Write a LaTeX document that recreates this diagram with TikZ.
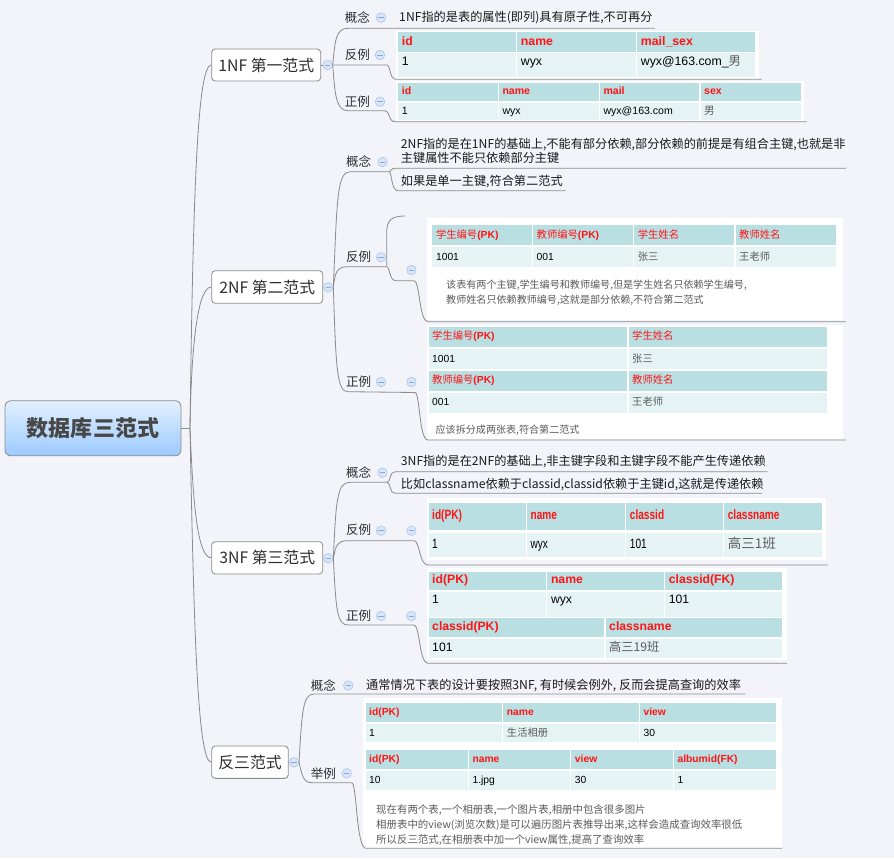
\documentclass[tikz,border=0pt]{standalone}
\usepackage{fontspec}
\setmainfont{Noto Sans CJK SC}
\newfontfamily\zhf{Noto Sans CJK SC}
\newfontfamily\arialf{Liberation Sans}
\newfontfamily\narrowf{Liberation Sans}[FakeStretch=0.75]
\definecolor{MapBg}{HTML}{F2F4F9}
\definecolor{MapLine}{HTML}{8C8C8C}
\definecolor{MapText}{HTML}{2E2E2E}
\definecolor{FoldEdge}{HTML}{A9C4EC}
\definecolor{FoldFill}{HTML}{DAE6F8}
\definecolor{FoldBar}{HTML}{86A8DC}
\definecolor{RootTop}{HTML}{E2F0FF}
\definecolor{RootBot}{HTML}{9CCAFF}
\definecolor{HeadFill}{HTML}{B9DFE3}
\definecolor{RowFill}{HTML}{E6F3F4}
\definecolor{HeadRed}{HTML}{FF1414}
\definecolor{NoteGray}{HTML}{5A5A5A}
\newdimen\pxu \pxu=0.03cm
\newcommand\tfs{\fontsize{9}{11}\selectfont}
\newcommand\zg[1]{{\zhf\mdseries\color{NoteGray}#1}}
\newcommand\zr[1]{{\zhf\mdseries #1}}
% one table row: top, bottom, text y, style, name prefix, cells x0/x1/text
\newcommand\tabrow[6]{%
  \foreach \xa/\xb/\t [count=\i] in {#6}{
    \fill[#4] (\xa+0.6,#1) rectangle (\xb-0.6,#2);
    \node[#4, fill=none, anchor=west, inner sep=0, text height=.75em, text depth=.22em]
      (#5\i) at (\xa+4,#3) {\t};
  }}
\tikzset{
  branch/.style={draw=MapLine, line width=.7pt},
  topic/.style={draw=MapLine, fill=white, rounded corners=3pt, line width=.7pt, inner sep=0,
    font=\fontsize{13.5}{16}\selectfont, text=MapText},
  lbl/.style={inner sep=0, font=\fontsize{10.7}{13}\selectfont, text=MapText},
  say/.style={inner sep=0, anchor=west, align=left, font=\fontsize{10.4}{12.2}\selectfont, text=black!90},
  note/.style={inner sep=0, anchor=west, align=left, font=\fontsize{8.6}{13.4}\selectfont, text=NoteGray},
  fold/.style={circle, draw=FoldEdge, fill=FoldFill, line width=.5pt, minimum size=9.5\pxu, inner sep=0,
    path picture={\draw[FoldBar, line width=.7pt] ([xshift=-2.2pt]path picture bounding box.center)
      -- ([xshift=2.2pt]path picture bounding box.center);}},
  hdr/.style={fill=HeadFill, text=HeadRed, font=\arialf\bfseries\tfs},
  dat/.style={fill=RowFill, text=black, font=\arialf\tfs},
  hdrn/.style={fill=HeadFill, text=HeadRed, font=\narrowf\bfseries\tfs},
  datn/.style={fill=RowFill, text=black, font=\narrowf\tfs},
  pic/.style={fill=white}
}
\begin{document}
\begin{tikzpicture}[x=0.03cm,y=-0.03cm]
  \fill[MapBg] (0,0) rectangle (894,858);
  \useasboundingbox (0,0) rectangle (894,858);

  % tables and pictures
  \renewcommand\tfs{\fontsize{10.5}{12}\selectfont}
  \fill[pic] (395.5,30.5) rectangle (758.5,78.6);
  \tabrow{32.3}{51.7}{42}{hdr}{ta}{397.7/516.7/id,516.7/636.7/name,636.7/756/mail\_sex}
  \tabrow{53}{77.3}{62.7}{dat}{tb}{397.7/516.7/1,516.7/636.7/wyx,636.7/756/{wyx@163.com\_\zg{男}}}
  \renewcommand\tfs{\fontsize{9}{11}\selectfont}
  \fill[pic] (395.5,81) rectangle (804,121);
  \tabrow{82.7}{100.7}{91.7}{hdr}{tc}{397.7/498.3/id,498.3/599.3/name,599.3/700/mail,700/801.7/sex}
  \tabrow{102.7}{120.4}{111.5}{dat}{td}{397.7/498.3/1,498.3/599.3/wyx,599.3/700/wyx@163.com,700/801.7/\zg{男}}

  \renewcommand\tfs{\fontsize{8.8}{10}\selectfont}
  \fill[pic] (427,218.3) rectangle (842.5,320);
  \tabrow{225}{245}{235}{hdr}{te}{431.8/532.5/{\zr{学生编号}(PK)},532.5/633.6/{\zr{教师编号}(PK)},633.6/735/\zr{学生姓名},735/837/\zr{教师姓名}}
  \tabrow{247.3}{267.3}{257}{dat}{tf}{431.8/532.5/1001,532.5/633.6/001,633.6/735/\zg{张三},735/837/\zg{王老师}}
  \node[note] (n2e) at (446,292.8) {该表有两个主键,学生编号和教师编号,但是学生姓名只依赖学生编号,\\教师姓名只依赖教师编号,这就是部分依赖,不符合第二范式};
  \fill[pic] (427,325) rectangle (842.5,439);
  \tabrow{326.7}{346.7}{336.7}{hdr}{tg}{428/628/{\zr{学生编号}(PK)},628/828/\zr{学生姓名}}
  \tabrow{349.3}{369.3}{359}{dat}{th}{428/628/1001,628/828/\zg{张三}}
  \tabrow{370.5}{390.5}{380.5}{hdr}{ti}{428/628/{\zr{教师编号}(PK)},628/828/\zr{教师姓名}}
  \tabrow{392.7}{412.7}{402.5}{dat}{tj}{428/628/001,628/828/\zg{王老师}}
  \node[note] (n2p) at (435.4,430) {应该拆分成两张表,符合第二范式};

  \renewcommand\tfs{\fontsize{11.5}{13}\selectfont}
  \fill[pic] (427,497.7) rectangle (826.4,560);
  \tabrow{503.3}{530}{516.7}{hdrn}{tk}{428/526.4/id(PK),526.4/625.7/name,625.7/723.6/classid,723.6/823/classname}
  \tabrow{532.7}{557.3}{545}{datn}{tl}{428/526.4/1,526.4/625.7/wyx,625.7/723.6/101,723.6/823/\zg{高三1班}}
  \renewcommand\tfs{\fontsize{10.4}{12}\selectfont}
  \fill[pic] (427,568.3) rectangle (787,660);
  \tabrow{571.7}{590}{580.7}{hdr}{tm}{428/546.8/id(PK),546.8/664.6/name,664.6/782.5/classid(FK)}
  \tabrow{592.3}{616.7}{600.7}{dat}{tn}{428/546.8/1,546.8/664.6/wyx,664.6/782.5/101}
  \tabrow{618.3}{636.7}{627}{hdr}{to}{428/605/classid(PK),605/782.5/classname}
  \tabrow{639}{658.3}{648}{dat}{tp}{428/605/101,605/782.5/\zg{高三19班}}

  \renewcommand\tfs{\fontsize{8.8}{10}\selectfont}
  \fill[pic] (362.7,697.7) rectangle (782,848);
  \tabrow{703.3}{722.3}{712.8}{hdr}{tq}{365/502.7/id(PK),502.7/639.3/name,639.3/776.7/view}
  \tabrow{724.3}{742.3}{733.3}{dat}{tr}{365/502.7/1,502.7/639.3/\zg{生活相册},639.3/776.7/30}
  \tabrow{750}{769.3}{759.7}{hdr}{ts}{365/468.3/id(PK),468.3/570.7/name,570.7/673.3/view,673.3/776.7/albumid(FK)}
  \tabrow{770.7}{790}{780.3}{dat}{tt}{365/468.3/10,468.3/570.7/1.jpg,570.7/673.3/30,673.3/776.7/1}
  \node[note, font=\fontsize{8.9}{12.8}\selectfont] (n4) at (376,825) {现在有两个表,一个相册表,一个图片表,相册中包含很多图片\\相册表中的view(浏览次数)是可以遍历图片表推导出来,这样会造成查询效率很低\\所以反三范式,在相册表中加一个view属性,提高了查询效率};

  % root and main topics
  \node[draw=MapLine, line width=.7pt, top color=RootTop, bottom color=RootBot, rounded corners=5pt,
    minimum width=176\pxu, minimum height=55\pxu, font=\fontsize{18.8}{22}\selectfont\bfseries,
    text=black!72] (root) at (93,428.3) {数据库三范式};
  \node[topic, minimum width=109\pxu, minimum height=32\pxu] (nf1) at (266.2,65) {1NF 第一范式};
  \node[topic, minimum width=111\pxu, minimum height=32.6\pxu] (nf2) at (267.2,287) {2NF 第二范式};
  \node[topic, minimum width=111\pxu, minimum height=32.3\pxu] (nf3) at (267.2,557.8) {3NF 第三范式};
  \node[topic, minimum width=76.6\pxu, minimum height=32.3\pxu] (anti) at (250,762.2) {反三范式};

  \coordinate (trk) at (190,428.3);
  \draw[branch] (root.east) -- (trk);
  \draw[branch] (trk) .. controls (193,200) and (197,65) .. (nf1.west);
  \draw[branch] (trk) .. controls (191,360) and (196,287) .. (nf2.west);
  \draw[branch] (trk) .. controls (193,500) and (197,557.8) .. (nf3.west);
  \draw[branch] (trk) .. controls (194,640) and (198,762.2) .. (anti.west);

  \node[fold] (f1) at (327.7,65) {};
  \node[fold] (f2) at (328.3,287.3) {};
  \node[fold] (f3) at (328.3,558.3) {};
  \node[fold] (fa) at (294,762.3) {};
  \foreach \a/\b in {nf1/f1,nf2/f2,nf3/f3,anti/fa} \draw[branch] (\a.east) -- (\b.west);

  % 1NF
  \draw[branch] (f1.east) .. controls (335,40) and (336,28.3) .. (348,28.3) -- (655,28.3) coordinate (e1c);
  \draw[branch] (f1.east) -- (386.7,65) .. controls (391,65) and (389,79.3) .. (396,79.3) -- (761.7,79.3) coordinate (e1n);
  \draw[branch] (f1.east) .. controls (335,95) and (336,110.7) .. (348,110.7) -- (385,110.7)
    .. controls (390,110.7) and (388,121.7) .. (395,121.7) -- (806.7,121.7) coordinate (e1p);
  \node[lbl] (k1) at (357.3,17.3) {概念};
  \node[lbl] (x1) at (357.3,55) {反例};
  \node[lbl] (z1) at (357.3,101.7) {正例};
  \node[say] (s1) at (399,17.3) {1NF指的是表的属性(即列)具有原子性,不可再分};

  % 2NF
  \draw[branch] (f2.east) .. controls (337,200) and (337,171.7) .. (350,171.7) -- (389,171.7) coordinate (c2);
  \draw[branch] (c2) .. controls (391,171.7) and (391,168.3) .. (395,168.3) -- (846,168.3) coordinate (e2a);
  \draw[branch] (c2) .. controls (392,171.7) and (391,190.7) .. (398,190.7) -- (565.7,190.7) coordinate (e2b);
  \draw[branch] (f2.east) .. controls (335,272) and (337,266.7) .. (348,266.7) -- (386.7,266.7) coordinate (c2n)
    .. controls (390,266.7) and (389,280.7) .. (396,280.7) -- (414,280.7)
    .. controls (420,280.7) and (419,321.7) .. (428,321.7) -- (846,321.7) coordinate (e2n);
  \draw[branch] (405,216) .. controls (392,216) and (386.7,220) .. (386.7,232) -- (c2n);
  \draw[branch] (f2.east) .. controls (336,370) and (337,391.7) .. (348,391.7) -- (415,392.5)
    .. controls (420,393) and (419,440) .. (428,440) -- (846,440) coordinate (e2p);
  \node[lbl] (k2) at (358.6,162) {概念};
  \node[lbl] (x2) at (358.6,256.7) {反例};
  \node[lbl] (z2) at (358.6,381.7) {正例};
  \node[say] (s2a) at (400.7,151.2) {2NF指的是在1NF的基础上,不能有部分依赖,部分依赖的前提是有组合主键,也就是非\\主键属性不能只依赖部分主键};
  \node[say] (s2b) at (400.7,181.7) {如果是单一主键,符合第二范式};

  % 3NF
  \draw[branch] (f3.east) .. controls (336,500) and (337,482.3) .. (350,482.3) -- (387,482.3) coordinate (c3);
  \draw[branch] (c3) .. controls (391,482.3) and (389,471.7) .. (395,471.7) -- (767.5,471.7) coordinate (e3a);
  \draw[branch] (c3) .. controls (391,482.3) and (389,493.3) .. (395,493.3) -- (762,493.3) coordinate (e3b);
  \draw[branch] (f3.east) .. controls (336,545) and (337,540.7) .. (348,540.7) -- (414,540.7)
    .. controls (420,540.7) and (419,565) .. (428,565) -- (828,565) coordinate (e3n);
  \draw[branch] (f3.east) .. controls (336,610) and (337,625) .. (348,625) -- (414,625)
    .. controls (420,625) and (419,663.3) .. (428,663.3) -- (787,663.3) coordinate (e3p);
  \node[lbl] (k3) at (358.6,472.7) {概念};
  \node[lbl] (x3) at (358.6,530) {反例};
  \node[lbl] (z3) at (358.6,616) {正例};
  \node[say] (s3a) at (400.7,461.7) {3NF指的是在2NF的基础上,非主键字段和主键字段不能产生传递依赖};
  \node[say] (s3b) at (400.7,484.3) {比如classname依赖于classid,classid依赖于主键id,这就是传递依赖};

  % denormalised
  \draw[branch] (fa.east) .. controls (302,710) and (303,694) .. (314,694) -- (745,694) coordinate (e4c);
  \draw[branch] (fa.east) .. controls (302,775) and (303,782.7) .. (312,782.7) -- (351.7,782.7)
    .. controls (357,782.7) and (356,848.3) .. (366,848.3) -- (782,848.3) coordinate (e4x);
  \node[lbl] (k4) at (323.3,685.5) {概念};
  \node[lbl] (j4) at (323.3,773.3) {举例};
  \node[say] (s4) at (366,685.7) {通常情况下表的设计要按照3NF, 有时候会例外, 反而会提高查询的效率};

  % fold marks
  \foreach \p [count=\i] in {(381,17.7),(380,55),(380,101.7),(382.5,162),(381,257.3),(411.4,270),
    (381,382),(411.4,382),(382.5,472.7),(381,530.7),(411.4,530.7),(381,616),(411.4,616),
    (348.3,685.5),(346.7,773.3)}
    \node[fold] (g\i) at \p {};
\end{tikzpicture}
\end{document}
